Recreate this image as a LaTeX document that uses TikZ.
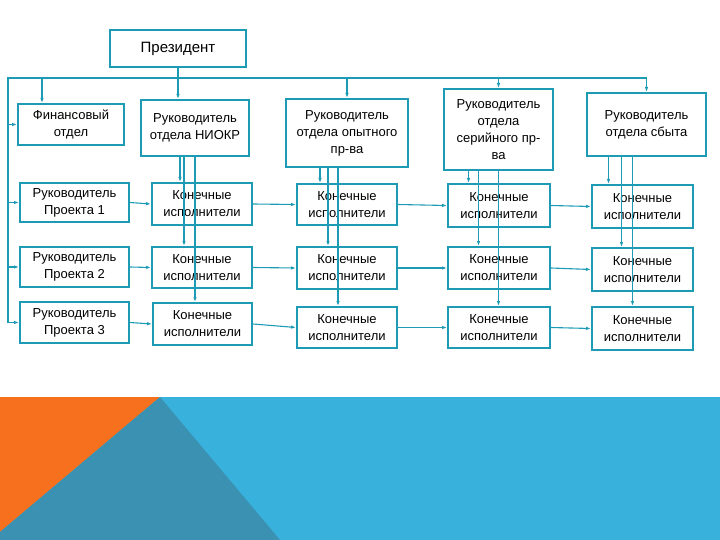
\documentclass[tikz,border=0pt]{standalone}
\usepackage{fontspec}
\setmainfont{Liberation Sans}
\usepackage{xcolor}
\usepackage{tikz}
\usetikzlibrary{arrows.meta}

\definecolor{boxblue}{RGB}{30,155,180}
\definecolor{bandblue}{RGB}{56,177,220}
\definecolor{darkteal}{RGB}{58,145,178}
\definecolor{cornerorange}{RGB}{247,112,30}

\begin{document}
\begin{tikzpicture}[x=1pt, y=-1pt, >={Latex[length=5pt,width=3.5pt]},
  box/.style={draw=boxblue, line width=2pt, fill=white, align=center, inner sep=0pt,
    font=\fontsize{13}{17}\selectfont},
  wire/.style={draw=boxblue, line width=1.1pt},
  link/.style={wire, ->}]
  \useasboundingbox (0,0) rectangle (720,540);

  % Bottom band
  \fill[bandblue] (0,397) rectangle (720,540);
  \fill[cornerorange] (0,397) -- (160,397) -- (0,532) -- cycle;
  \fill[darkteal] (160,397) -- (280,540) -- (0,540) -- (0,532) -- cycle;

  % Top level
  \node[box, minimum width=136pt, minimum height=37pt, font=\fontsize{15}{18}\selectfont] (pres) at (178,48.5) {Президент};

  % Department heads
  \node[box, minimum width=106pt, minimum height=41pt] (fin) at (71,124.5) {Финансовый\\отдел};
  \node[box, minimum width=108pt, minimum height=56pt] (niokr) at (195,128) {Руководитель\\отдела НИОКР};
  \node[box, minimum width=122pt, minimum height=68pt] (opyt) at (347,133) {Руководитель\\отдела опытного\\пр-ва};
  \node[box, minimum width=109pt, minimum height=81pt] (seriy) at (498.5,129.5) {Руководитель\\отдела\\серийного пр-\\ва};
  \node[box, minimum width=119pt, minimum height=63pt] (sbyt) at (646.5,124.5) {Руководитель\\отдела сбыта};

  % Project heads
  \node[box, minimum width=109pt, minimum height=39pt] (proj1) at (74.5,202.5) {Руководитель\\Проекта 1};
  \node[box, minimum width=109pt, minimum height=40pt] (proj2) at (74.5,267) {Руководитель\\Проекта 2};
  \node[box, minimum width=109pt, minimum height=41pt] (proj3) at (74.5,322.5) {Руководитель\\Проекта 3};

  % Executors, row 1
  \node[box, minimum width=100pt, minimum height=42pt] (ex12) at (202,204) {Конечные\\исполнители};
  \node[box, minimum width=100pt, minimum height=41pt] (ex13) at (347,204.5) {Конечные\\исполнители};
  \node[box, minimum width=102pt, minimum height=43pt] (ex14) at (499,205.5) {Конечные\\исполнители};
  \node[box, minimum width=101pt, minimum height=43pt] (ex15) at (642.5,206.5) {Конечные\\исполнители};
  % Executors, row 2
  \node[box, minimum width=100pt, minimum height=41pt] (ex22) at (202,267.5) {Конечные\\исполнители};
  \node[box, minimum width=100pt, minimum height=42pt] (ex23) at (347,268) {Конечные\\исполнители};
  \node[box, minimum width=102pt, minimum height=42pt] (ex24) at (499,268) {Конечные\\исполнители};
  \node[box, minimum width=101pt, minimum height=43pt] (ex25) at (642.5,269.5) {Конечные\\исполнители};
  % Executors, row 3
  \node[box, minimum width=99pt, minimum height=42pt] (ex32) at (202.5,324) {Конечные\\исполнители};
  \node[box, minimum width=100pt, minimum height=41pt] (ex33) at (347,327.5) {Конечные\\исполнители};
  \node[box, minimum width=102pt, minimum height=41pt] (ex34) at (499,327.5) {Конечные\\исполнители};
  \node[box, minimum width=101pt, minimum height=43pt] (ex35) at (642.5,328.5) {Конечные\\исполнители};

  % Bus from the president
  \coordinate (busL) at (8,78);
  \coordinate (busR) at (sbyt.north |- busL);
  \draw[link] (pres.south) -- (pres.south |- niokr.north);
  \draw[wire] (busL |- proj3.west) -- (busL) -- (busR);
  \draw[link] (busR) -- (sbyt.north);
  \draw[link] ([xshift=-29]fin.north |- busL) -- ([xshift=-29]fin.north);
  \draw[link] (opyt.north |- busL) -- (opyt.north);
  \draw[link] (seriy.north |- busL) -- (seriy.north);
  \draw[link] (busL |- fin.west) -- (fin.west);
  \draw[link] (busL |- proj1.west) -- (proj1.west);
  \draw[link] (busL |- proj2.west) -- (proj2.west);
  \draw[link] (busL |- proj3.west) -- (proj3.west);

  % Rows
  \draw[link] (proj1.east) -- (ex12.west);
  \draw[link] (ex12.east) -- (ex13.west);
  \draw[link] (ex13.east) -- (ex14.west);
  \draw[link] (ex14.east) -- (ex15.west);
  \draw[link] (proj2.east) -- (ex22.west);
  \draw[link] (ex22.east) -- (ex23.west);
  \draw[link] (ex23.east) -- (ex24.west);
  \draw[link] (ex24.east) -- (ex25.west);
  \draw[link] (proj3.east) -- (ex32.west);
  \draw[link] (ex32.east) -- (ex33.west);
  \draw[link] (ex33.east) -- (ex34.west);
  \draw[link] (ex34.east) -- (ex35.west);

  % Department heads down to executors
  \draw[link] ([xshift=-15]niokr.south) -- ([xshift=-15]niokr.south |- ex12.north);
  \draw[link] ([xshift=-11]niokr.south) -- ([xshift=-11]niokr.south |- ex22.north);
  \draw[link, line width=1.8pt] (niokr.south) -- (niokr.south |- ex32.north);
  \draw[link] ([xshift=-27]opyt.south) -- ([xshift=-27]opyt.south |- ex13.north);
  \draw[link] ([xshift=-19]opyt.south) -- ([xshift=-19]opyt.south |- ex23.north);
  \draw[link] ([xshift=-9]opyt.south) -- ([xshift=-9]opyt.south |- ex33.north);
  \draw[link] ([xshift=-30]seriy.south) -- ([xshift=-30]seriy.south |- ex14.north);
  \draw[link, line width=1.5pt] ([xshift=-20]seriy.south) -- ([xshift=-20]seriy.south |- ex24.north);
  \draw[link, line width=1.8pt] (seriy.south) -- (seriy.south |- ex34.north);
  \draw[link] ([xshift=-38]sbyt.south) -- ([xshift=-38]sbyt.south |- ex15.north);
  \draw[link, line width=1.8pt] ([xshift=-25]sbyt.south) -- ([xshift=-25]sbyt.south |- ex25.north);
  \draw[link, line width=1.8pt] ([xshift=-14]sbyt.south) -- ([xshift=-14]sbyt.south |- ex35.north);
\end{tikzpicture}
\end{document}
